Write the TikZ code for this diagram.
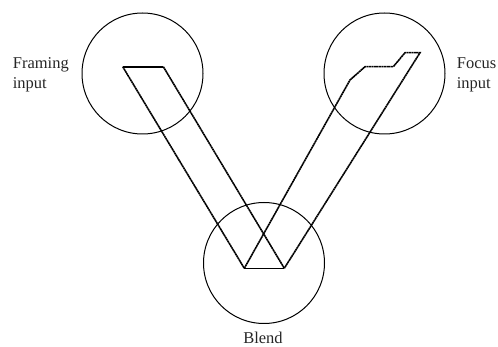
\documentclass[tikz,border=0pt]{standalone}
\usepackage{fontspec}
\setmainfont{Liberation Serif}
\begin{document}
\begin{tikzpicture}[x=1pt,y=-1pt,
  space/.style={circle,draw,line width=1pt,minimum size=121pt,inner sep=0pt},
  lbl/.style={font=\fontsize{16.5}{19.5}\selectfont,inner sep=0pt,align=left,text=black!85},
  link/.style={line width=1.6pt,dash pattern=on 2pt off 0.45pt,line join=miter},
  bar/.style={line width=1.2pt}]
\useasboundingbox (0,0) rectangle (498,347);
\node[space] (frame) at (142.5,73.5) {};
\node[space] (focus) at (384.5,73.5) {};
\node[space] (blend) at (264,263) {};
\node[lbl,anchor=north west] (framelbl) at (12.7,57.6) {Framing\\input};
\node[lbl,anchor=north west] (focuslbl) at (456.7,57.6) {Focus\\input};
\node[lbl,anchor=base] (blendlbl) at (263,343.5) {Blend};
% points
\coordinate (fa) at (122.7,66.7);
\coordinate (fb) at (163.3,66.7);
\coordinate (ba) at (244.3,268.3);
\coordinate (bb) at (284.3,268.3);
\coordinate (g1) at (350,80);
\coordinate (g2) at (365,66.7);
\coordinate (g3) at (393.3,66.7);
\coordinate (g4) at (405,52.7);
\coordinate (g5) at (420,52.7);
\draw[bar,line width=1.8pt] (fa) -- (fb);
\draw[link] (fa) -- (ba);
\draw[link] (fb) -- (bb);
\draw[bar] (ba) -- (bb);
\draw[link] (ba) -- (g1) -- (g2) -- (g3) -- (g4) -- (g5) -- (bb);
\end{tikzpicture}
\end{document}
